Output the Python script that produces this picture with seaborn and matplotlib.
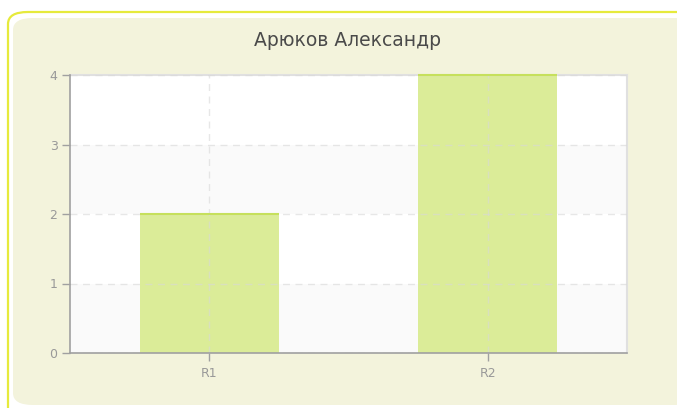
import matplotlib
matplotlib.use("Agg")
import matplotlib.pyplot as plt
from matplotlib.patches import FancyBboxPatch
import pandas as pd
import seaborn as sns

title = "Арюков Александр"
categories = ["R1", "R2"]
values = [2, 4]
y_ticks = [0, 1, 2, 3, 4]

sns.set_theme(style="white")
plt.rcParams["font.family"] = ["DejaVu Sans"]

W, H = 677, 408
fig = plt.figure(figsize=(W / 100, H / 100), dpi=100)
fig.patch.set_facecolor("white")


def px_box(x0, y0, x1, y1, r, **kw):
    # rounded box given in pixel coords (top-left origin)
    return FancyBboxPatch((x0 / W, 1 - y1 / H), (x1 - x0) / W, (y1 - y0) / H,
                          boxstyle=f"round,pad=0,rounding_size={r / H}",
                          transform=fig.transFigure, **kw)


# outer yellow frame and inner cream panel
fig.patches.append(px_box(8, 12, 700, 430, 12, facecolor="white",
                          edgecolor="#E6EA3C", linewidth=1.6, zorder=-2))
fig.patches.append(px_box(13, 18, 695, 405, 12, facecolor="#F3F3DC",
                          edgecolor="none", zorder=-1))

ax = fig.add_axes([70 / W, (H - 353) / H, 557 / W, 278 / H])
ax.set_zorder(2)
ax.set_facecolor("white")

df = pd.DataFrame({"cat": categories, "val": values})
sns.barplot(data=df, x="cat", y="val", color="#DBEC98", saturation=1,
            width=0.5, edgecolor="none", ax=ax, zorder=1)

ax.set_ylim(y_ticks[0], y_ticks[-1])
ax.set_xlim(-0.5, len(categories) - 0.5)

# alternating bands
for lo, hi in zip(y_ticks[:-1], y_ticks[1:]):
    if lo % 2 == 0:
        ax.axhspan(lo, hi, color="#FAFAFA", zorder=0, lw=0)

# darker top edge of each bar
for p in list(ax.patches):
    if p.get_height() > 0 and p.get_width() < 1:
        ax.plot([p.get_x(), p.get_x() + p.get_width()],
                [p.get_height()] * 2, color="#C6E05C", lw=1.5,
                zorder=4, solid_capstyle="butt", clip_on=False)

ax.set_yticks(y_ticks)
ax.set_axisbelow(False)
ax.grid(True, axis="both", color="#D8D8D8", linestyle=(0, (5, 4)),
        linewidth=1, alpha=0.6)

ax.set_xlabel("")
ax.set_ylabel("")
ax.tick_params(axis="both", colors="#A0A0A0", labelcolor="#999999",
               labelsize=9, length=6, width=1, direction="out",
               left=True, bottom=True)
ax.tick_params(axis="x", pad=4)
ax.tick_params(axis="y", pad=3)

for side in ["left", "bottom"]:
    ax.spines[side].set_color("#A0A0A0")
    ax.spines[side].set_linewidth(1.2)
    ax.spines[side].set_zorder(6)
for side in ["top", "right"]:
    ax.spines[side].set_color("#E0E0E0")
    ax.spines[side].set_linewidth(1.5)

fig.text(348 / W, (H - 41) / H, title, ha="center", va="center",
         fontsize=13.5, color="#4A4A4A")

fig.savefig("out.png", dpi=100, facecolor=fig.get_facecolor())
